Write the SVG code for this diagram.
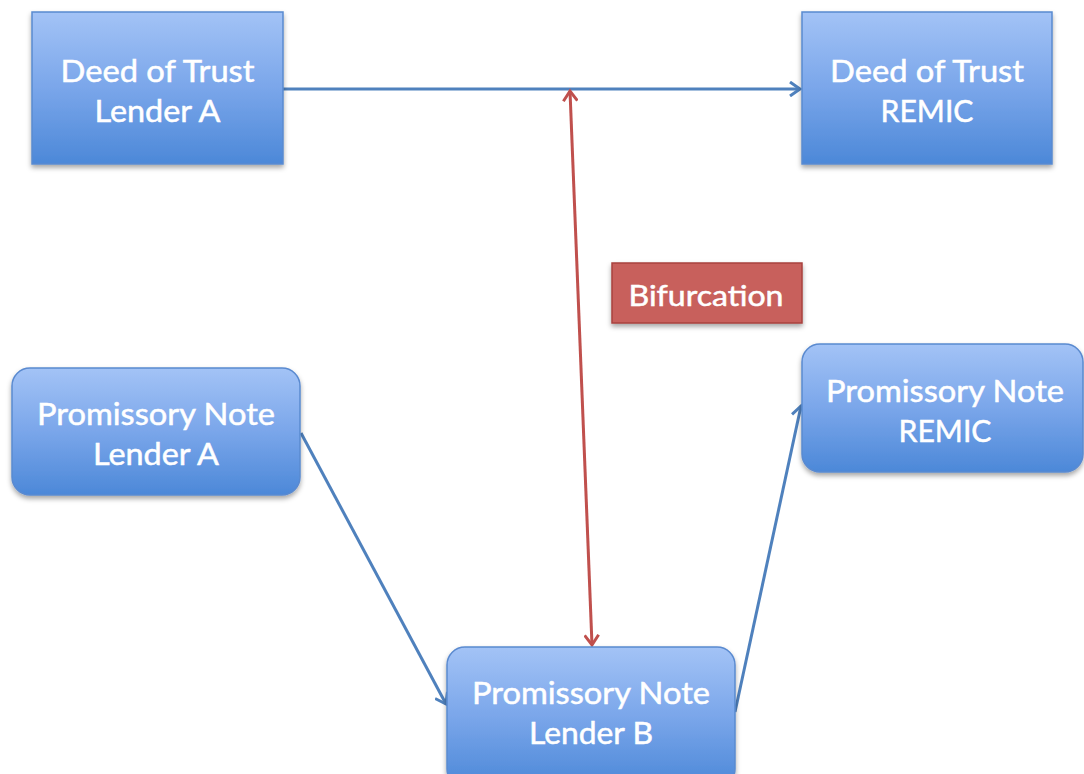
<svg xmlns="http://www.w3.org/2000/svg" width="1084" height="774" viewBox="0 0 1084 774">
<defs>
<linearGradient id="blue" x1="0" y1="0" x2="0" y2="1">
<stop offset="0" stop-color="#a3c3f6"/>
<stop offset="0.5" stop-color="#7aa6ea"/>
<stop offset="1" stop-color="#4c88d8"/>
</linearGradient>
<filter id="sh" x="-10%" y="-10%" width="120%" height="130%">
<feDropShadow dx="0" dy="3" stdDeviation="2.5" flood-color="#000" flood-opacity="0.35"/>
</filter>
<marker id="ab" markerWidth="16" markerHeight="16" refX="12" refY="8" orient="auto" markerUnits="userSpaceOnUse">
<path d="M2,1 L12,8 L2,15" fill="none" stroke="#4f81bd" stroke-width="3"/>
</marker>
<marker id="ar" markerWidth="16" markerHeight="16" refX="12" refY="8" orient="auto-start-reverse" markerUnits="userSpaceOnUse">
<path d="M2,1 L12,8 L2,15" fill="none" stroke="#c0504d" stroke-width="3"/>
</marker>
</defs>
<style>
.box{fill:url(#blue);stroke:#5a8ad0;stroke-width:1.5;filter:url(#sh)}
.t{font-family:Lato,"Open Sans","Liberation Sans",sans-serif;font-size:31px;fill:#fff;stroke:#fff;stroke-width:0.5;text-anchor:middle}
.cb{fill:none;stroke:#4f81bd;stroke-width:3}
.cr{fill:none;stroke:#c0504d;stroke-width:3}
</style>
<rect width="1084" height="774" fill="#fff"/>
<g id="connectors">
<line class="cb" x1="283" y1="89" x2="800" y2="89" marker-end="url(#ab)"/>
<line class="cb" x1="301" y1="433" x2="446" y2="704" marker-end="url(#ab)"/>
<line class="cb" x1="735" y1="712" x2="801" y2="406" marker-end="url(#ab)"/>
<line class="cr" x1="570" y1="91" x2="592" y2="645" marker-start="url(#ar)" marker-end="url(#ar)"/>
</g>
<g id="deed-lender-a">
<rect class="box" x="32" y="12" width="251" height="152"/>
<text class="t" x="157.5" y="82" textLength="194" lengthAdjust="spacingAndGlyphs">Deed of Trust</text>
<text class="t" x="157.5" y="122" textLength="126" lengthAdjust="spacingAndGlyphs">Lender A</text>
</g>
<g id="deed-remic">
<rect class="box" x="802" y="12" width="250" height="152"/>
<text class="t" x="927" y="82" textLength="194" lengthAdjust="spacingAndGlyphs">Deed of Trust</text>
<text class="t" x="927" y="122" textLength="93" lengthAdjust="spacingAndGlyphs">REMIC</text>
</g>
<g id="bifurcation">
<rect x="612" y="263" width="190" height="60" fill="#c8605b" stroke="#a8423e" stroke-width="1.5" filter="url(#sh)"/>
<text class="t" x="706" y="306" style="font-size:29px" textLength="155" lengthAdjust="spacingAndGlyphs">Bifurcation</text>
</g>
<g id="pn-lender-a">
<rect class="box" x="12" y="368" width="288" height="127" rx="18"/>
<text class="t" x="156" y="425" textLength="238" lengthAdjust="spacingAndGlyphs">Promissory Note</text>
<text class="t" x="156" y="465" textLength="126" lengthAdjust="spacingAndGlyphs">Lender A</text>
</g>
<g id="pn-remic">
<rect class="box" x="802" y="344" width="281" height="128" rx="18"/>
<text class="t" x="945" y="402" textLength="238" lengthAdjust="spacingAndGlyphs">Promissory Note</text>
<text class="t" x="945" y="442" textLength="93" lengthAdjust="spacingAndGlyphs">REMIC</text>
</g>
<g id="pn-lender-b">
<rect class="box" x="447" y="647" width="288" height="140" rx="18"/>
<text class="t" x="591" y="704" textLength="238" lengthAdjust="spacingAndGlyphs">Promissory Note</text>
<text class="t" x="591" y="744" textLength="124" lengthAdjust="spacingAndGlyphs">Lender B</text>
</g>
</svg>
